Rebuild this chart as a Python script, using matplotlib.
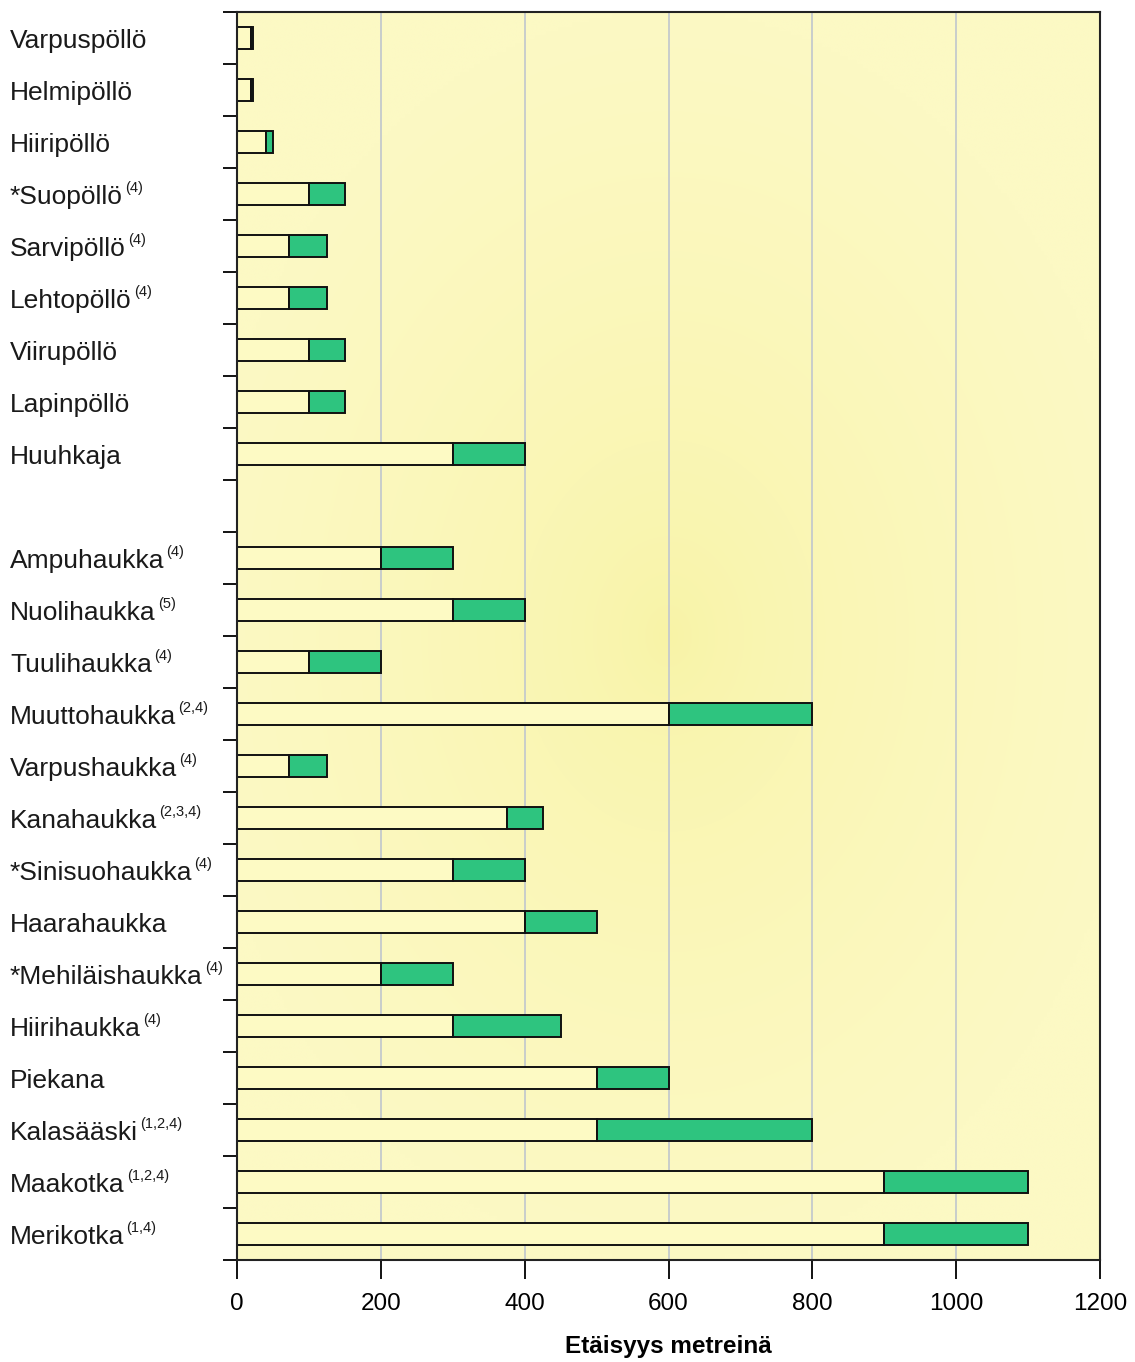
#!/usr/bin/env python3
"""Pesäpaikan suojavyöhykkeet: pöllöt ja petolinnut."""

import numpy as np
import matplotlib
matplotlib.use("Agg")
import matplotlib.pyplot as plt
from matplotlib.transforms import blended_transform_factory

plt.rcParams['font.family'] = ['Liberation Sans', 'DejaVu Sans']

# lajit (tyhjä rivi pöllöjen ja haukkojen välissä)
species = ["Varpuspöllö", "Helmipöllö", "Hiiripöllö", "*Suopöllö", "Sarvipöllö",
           "Lehtopöllö", "Viirupöllö", "Lapinpöllö", "Huuhkaja", "",
           "Ampuhaukka", "Nuolihaukka", "Tuulihaukka", "Muuttohaukka",
           "Varpushaukka", "Kanahaukka", "*Sinisuohaukka", "Haarahaukka",
           "*Mehiläishaukka", "Hiirihaukka", "Piekana", "Kalasääski",
           "Maakotka", "Merikotka"]
refs = ["", "", "", "(4)", "(4)", "(4)", "", "", "", "",
        "(4)", "(5)", "(4)", "(2,4)", "(4)", "(2,3,4)", "(4)", "",
        "(4)", "(4)", "", "(1,2,4)", "(1,2,4)", "(1,4)"]
# sisempi vyöhyke ja lisävyöhyke (m)
inner = [20, 20, 40, 100, 72, 72, 100, 100, 300, None,
         200, 300, 100, 600, 72, 375, 300, 400,
         200, 300, 500, 500, 900, 900]
extra = [2, 2, 10, 50, 53, 53, 50, 50, 100, None,
         100, 100, 100, 200, 53, 50, 100, 100,
         100, 150, 100, 300, 200, 200]
xticks = [0, 200, 400, 600, 800, 1000, 1200]


def main():
    fig = plt.figure(figsize=(11.35, 13.62), dpi=100)
    ax = fig.add_axes([237 / 1135, 1 - 1260 / 1362, 863 / 1135, 1248 / 1362])

    # taustan säteittäinen liukuväri
    gx, gy = np.meshgrid(np.linspace(0, 1, 300), np.linspace(0, 1, 300))
    d = np.clip(np.hypot((gx - 0.5) / 0.55, (gy - 0.5) / 0.5), 0, 1)
    c0 = np.array([248, 243, 165]) / 255
    c1 = np.array([252, 249, 196]) / 255
    img = c0 + (c1 - c0) * d[..., None] ** 0.6
    ax.imshow(img, extent=[0, 1, 0, 1], transform=ax.transAxes,
              aspect='auto', zorder=0, interpolation='bilinear')

    y = np.arange(len(species))
    for i in y:
        if inner[i] is None:
            continue
        ax.barh(i, inner[i], height=0.42, left=0, color='#fdfac4',
                edgecolor='#111111', linewidth=1.4, zorder=3)
        ax.barh(i, extra[i], height=0.42, left=inner[i], color='#2ec47f',
                edgecolor='#111111', linewidth=1.4, zorder=3)

    ax.set_xlim(0, 1200)
    ax.set_ylim(len(species) - 0.5, -0.5)
    ax.set_xticks(xticks)
    ax.set_xticklabels([str(v) for v in xticks], fontsize=17.5)
    ax.set_yticks(np.arange(len(species) + 1) - 0.5)
    ax.set_yticklabels([])
    ax.tick_params(axis='y', direction='out', length=10, width=1.3)
    ax.tick_params(axis='x', direction='out', length=14, width=1.3, pad=10)
    for v in xticks[1:-1]:
        ax.axvline(v, color='#c4cacc', linewidth=1.3, zorder=1)
    for s in ax.spines.values():
        s.set_linewidth(1.5)
        s.set_color('#222222')
        s.set_zorder(5)

    # lajinimet ja lähdeviitteet yläindekseinä
    trans = blended_transform_factory(fig.transFigure, ax.transData)
    for i, (name, ref) in enumerate(zip(species, refs)):
        if not name:
            continue
        t = ax.text(10 / 1135, i + 0.2, name, transform=trans, ha='left',
                    va='baseline', fontsize=19, color='#1a1a1a', clip_on=False)
        if ref:
            ax.annotate(ref, xy=(1, 0.62), xycoords=t, xytext=(1.5, 0),
                        textcoords='offset points', ha='left', va='bottom',
                        fontsize=10.5, color='#1a1a1a', annotation_clip=False)

    ax.set_xlabel("Etäisyys metreinä", fontsize=17.5, fontweight='bold', labelpad=14)

    fig.savefig('out.png', dpi=100)


if __name__ == "__main__":
    main()
